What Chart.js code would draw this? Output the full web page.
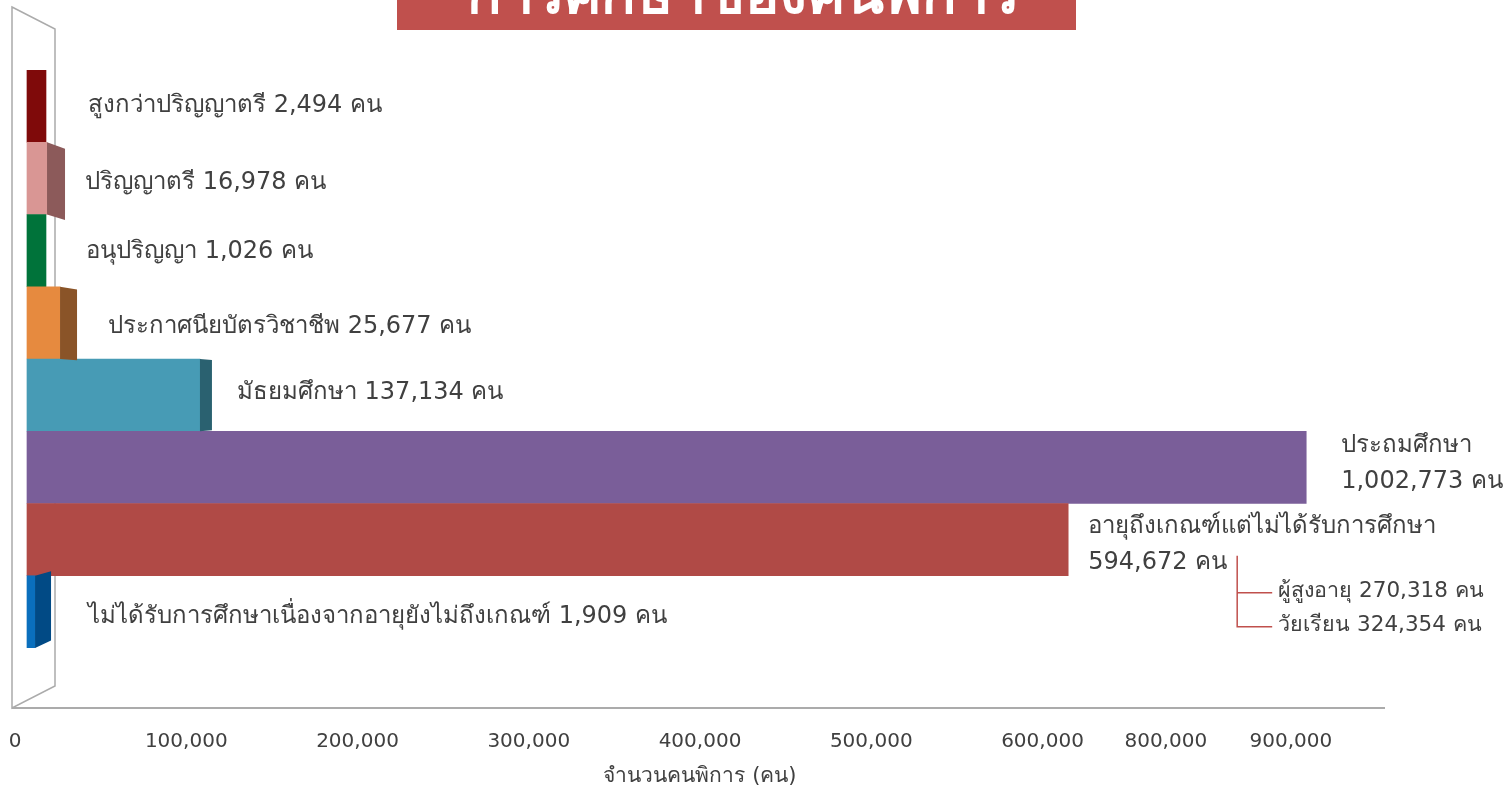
<!DOCTYPE html>
<html>
<head>
<meta charset="utf-8">
<script src="https://cdn.jsdelivr.net/npm/chart.js@4.4.0/dist/chart.umd.min.js"></script>
<style>
  html, body { margin: 0; padding: 0; background: #fff; overflow: hidden; }
  canvas { display: block; }
</style>
</head>
<body>
<canvas id="eduChart" width="1506" height="789"></canvas>
<script>
const categories = ['สูงกว่าปริญญาตรี', 'ปริญญาตรี', 'อนุปริญญา', 'ประกาศนียบัตรวิชาชีพ', 'มัธยมศึกษา',
  'ประถมศึกษา', 'อายุถึงเกณฑ์แต่ไม่ได้รับการศึกษา', 'ไม่ได้รับการศึกษาเนื่องจากอายุยังไม่ถึงเกณฑ์'];
const counts = [2494, 16978, 1026, 25677, 137134, 1002773, 594672, 1909];
// bar lengths as drawn in the picture, read against its own x axis
const barLengths = [18100, 18700, 18100, 26300, 108000, 754000, 615000, 11700];
const tickLabels = ['0', '100,000', '200,000', '300,000', '400,000', '500,000', '600,000', '800,000', '900,000'];
// where each tick label sits on that axis
const tickValues = [0, 100000, 200000, 300000, 400000, 500000, 600000, 672000, 745000];
const subCategories = ['ผู้สูงอายุ', 'วัยเรียน'];
const subCounts = [270318, 324354];

const titleText = 'การศึกษาของคนพิการ';
const axisTitle = 'จำนวนคนพิการ (คน)';

const frontColors = ['#7f0a0a', '#d99694', '#00733a', '#e68a3f', '#479bb5', '#7a5e99', '#b04a46', '#0a6fbd'];
const sideColors = [null, '#8c5a5a', null, '#8a5428', '#2a6170', null, null, '#014a85'];
const sideDepth = [0, 18, 0, 17, 12, 0, 0, 16];
const labelGap = [42, 20, 40, 31, 25, 35, 20, 37];
const labelDy = [0, 4, 1, 4, -2, -4, 5, 5];
const twoLine = [false, false, false, false, false, true, true, false];

const FONT = "'DejaVu Sans', 'Noto Sans', sans-serif";
const fmt = n => n.toLocaleString('en-US');

const decor = {
  id: 'decor',
  beforeDatasetsDraw(chart) {
    const { ctx, chartArea } = chart;
    const x0 = chartArea.left - 3, x1 = x0 + 43;
    const floorY = chartArea.bottom + 60;
    ctx.save();
    ctx.strokeStyle = '#ababab';
    ctx.lineWidth = 1.5;
    ctx.beginPath();
    ctx.moveTo(x0, 7);
    ctx.lineTo(x1, 29);
    ctx.lineTo(x1, floorY - 22);
    ctx.lineTo(x0, floorY);
    ctx.closePath();
    ctx.stroke();
    ctx.lineWidth = 2;
    ctx.beginPath();
    ctx.moveTo(x0, floorY);
    ctx.lineTo(chartArea.right, floorY);
    ctx.stroke();
    ctx.restore();
  },
  afterDatasetsDraw(chart) {
    const { ctx } = chart;
    const bars = chart.getDatasetMeta(0).data;
    ctx.save();
    bars.forEach((bar, i) => {
      const { x, y, height } = bar.getProps(['x', 'y', 'height'], true);
      const top = y - height / 2, bottom = y + height / 2;
      const d = sideDepth[i];
      if (d && sideColors[i]) {
        const slantTop = (400 - top) * 0.025;
        const slantBot = (400 - bottom) * 0.03;
        ctx.fillStyle = sideColors[i];
        ctx.beginPath();
        ctx.moveTo(x, top);
        ctx.lineTo(x + d, top + slantTop);
        ctx.lineTo(x + d, bottom + slantBot);
        ctx.lineTo(x, bottom);
        ctx.closePath();
        ctx.fill();
      }
      const lx = x + d + labelGap[i];
      const ly = y + labelDy[i];
      ctx.fillStyle = '#404040';
      ctx.font = '24px ' + FONT;
      ctx.textBaseline = 'middle';
      ctx.textAlign = 'left';
      if (twoLine[i]) {
        ctx.fillText(categories[i], lx, ly - 18);
        ctx.fillText(fmt(counts[i]) + ' คน', lx, ly + 18);
        if (i === 6) {
          // breakdown of the not-educated group
          const bx = lx + 149;
          ctx.strokeStyle = '#c0504d';
          ctx.lineWidth = 1.5;
          ctx.beginPath();
          ctx.moveTo(bx, ly + 11);
          ctx.lineTo(bx, ly + 82);
          ctx.lineTo(bx + 35, ly + 82);
          ctx.moveTo(bx, ly + 48);
          ctx.lineTo(bx + 35, ly + 48);
          ctx.stroke();
          ctx.font = '21.5px ' + FONT;
          subCategories.forEach((s, k) => {
            ctx.fillText(s + ' ' + fmt(subCounts[k]) + ' คน', bx + 41, ly + 47 + k * 34);
          });
        }
      } else {
        ctx.fillText(categories[i] + ' ' + fmt(counts[i]) + ' คน', lx, ly);
      }
    });
    ctx.restore();
  },
  afterDraw(chart) {
    const { ctx } = chart;
    ctx.save();
    ctx.fillStyle = '#c0504d';
    ctx.fillRect(397, -5, 679, 35);
    ctx.fillStyle = '#ffffff';
    ctx.font = 'bold 57px ' + FONT;
    ctx.textAlign = 'center';
    ctx.textBaseline = 'alphabetic';
    ctx.fillText(titleText, 743, 13);
    ctx.restore();
  }
};

new Chart(document.getElementById('eduChart'), {
  type: 'bar',
  data: {
    labels: categories,
    datasets: [{
      data: barLengths,
      backgroundColor: frontColors,
      base: 7000,
      barPercentage: 1,
      categoryPercentage: 1,
      borderWidth: 0
    }]
  },
  options: {
    indexAxis: 'y',
    responsive: false,
    animation: false,
    layout: { padding: { left: 15, right: 121, top: 70, bottom: 0 } },
    plugins: {
      legend: { display: false },
      tooltip: { enabled: false },
      title: { display: false }
    },
    scales: {
      y: { display: false },
      x: {
        min: 0,
        max: 800000,
        grid: { display: false, drawTicks: false },
        border: { display: false },
        afterBuildTicks: scale => { scale.ticks = tickValues.map(v => ({ value: v })); },
        afterFit: scale => {
          scale.height = 141;
          scale.paddingLeft = 0;
          scale.paddingRight = 0;
        },
        ticks: {
          autoSkip: false,
          maxRotation: 0,
          padding: 82,
          color: '#404040',
          font: { family: FONT, size: 20 },
          callback: (v, i) => tickLabels[i]
        },
        title: {
          display: true,
          text: axisTitle,
          color: '#404040',
          font: { family: FONT, size: 21 },
          padding: { top: 0, bottom: 0 }
        }
      }
    }
  },
  plugins: [decor]
});
</script>
</body>
</html>
